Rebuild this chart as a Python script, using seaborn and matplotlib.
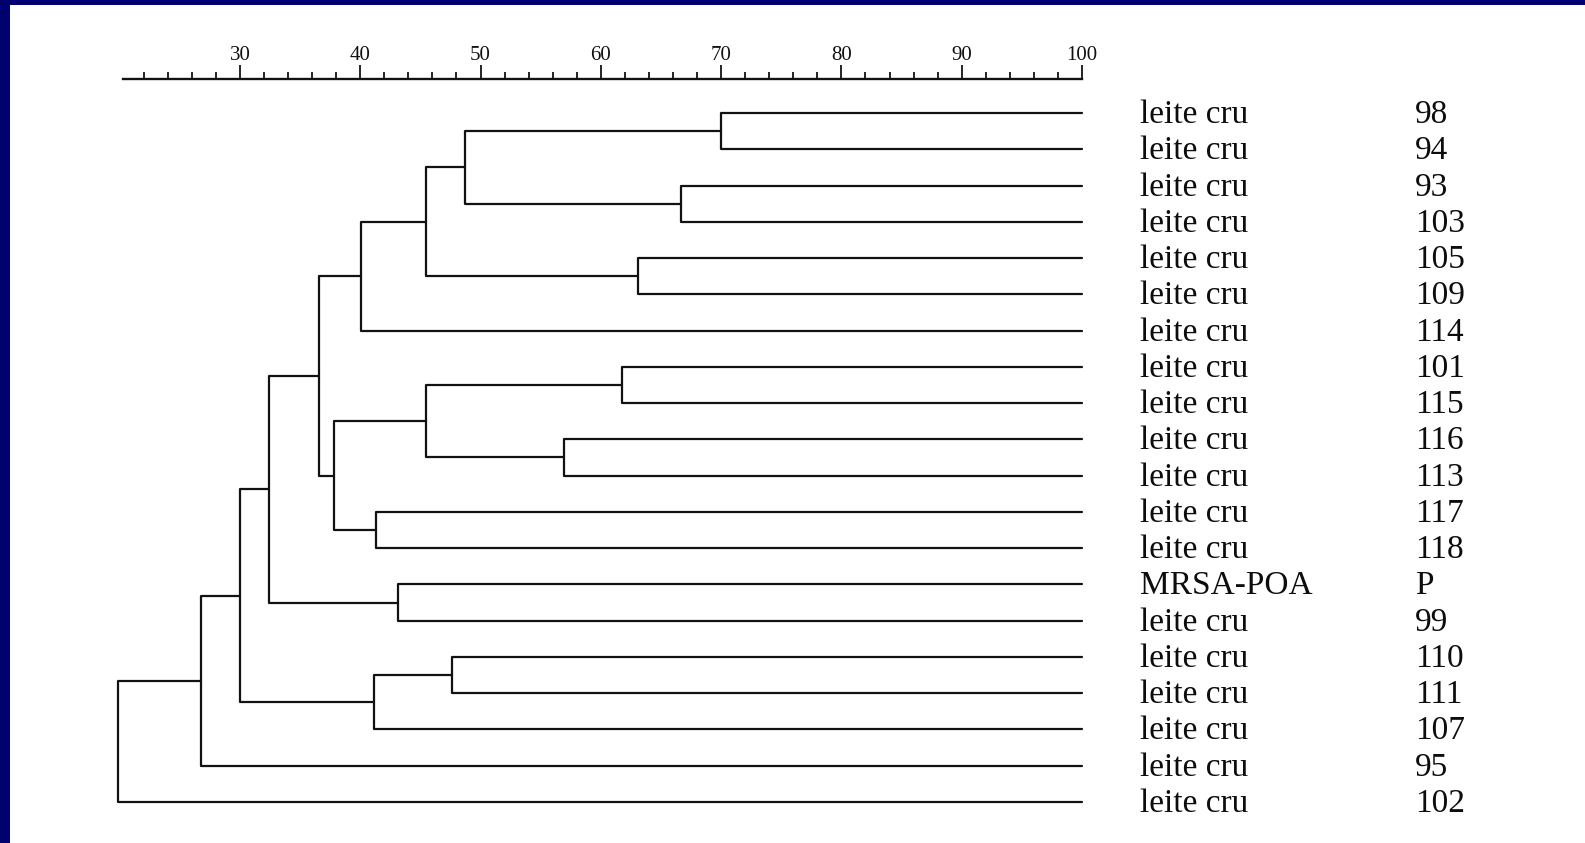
import matplotlib
matplotlib.use("Agg")
import matplotlib.pyplot as plt
import matplotlib.transforms as mtransforms
from matplotlib.ticker import FixedLocator
import numpy as np
import pandas as pd
import seaborn as sns

# ---------------- data ----------------
leaf_names = ["leite cru"] * 13 + ["MRSA-POA"] + ["leite cru"] * 6
leaf_codes = ["98", "94", "93", "103", "105", "109", "114", "101", "115", "116",
              "113", "117", "118", "P", "99", "110", "111", "107", "95", "102"]
# merges: (left cluster, right cluster, similarity %); new clusters numbered from 20
merge_left = [0, 2, 20, 4, 22, 24, 7, 9, 26, 11, 28, 25, 13, 31, 15, 34, 33, 36, 37]
merge_right = [1, 3, 21, 5, 23, 6, 8, 10, 27, 12, 29, 30, 14, 32, 16, 17, 35, 18, 19]
merge_sim = [70.0, 66.7, 48.7, 63.1, 45.5, 40.1, 61.8, 56.9, 45.5, 41.3, 37.8,
             36.6, 43.1, 32.4, 47.6, 41.1, 30.0, 26.8, 19.9]
major_ticks = [30, 40, 50, 60, 70, 80, 90, 100]

# ---------------- build dendrogram segments ----------------
n = len(leaf_codes)
pos = {i: float(i) for i in range(n)}
height = {i: 100.0 for i in range(n)}
rows = []
for k, (a, b, s) in enumerate(zip(merge_left, merge_right, merge_sim)):
    cid = n + k
    pts = [(height[a], pos[a]), (s, pos[a]), (s, pos[b]), (height[b], pos[b])]
    for j, (x, y) in enumerate(pts):
        rows.append({"seg": k, "order": j, "x": x, "y": y})
    pos[cid] = (pos[a] + pos[b]) / 2.0
    height[cid] = s
df = pd.DataFrame(rows)

# ---------------- figure ----------------
sns.set_style("white")
plt.rcParams["font.family"] = ["Liberation Serif", "DejaVu Serif"]

W, H = 1585, 843
fig = plt.figure(figsize=(W / 100, H / 100), dpi=100)
fig.patch.set_facecolor("#00006f")

# white page
bg = fig.add_axes([10 / W, 0, 1 - 10 / W, 1 - 5 / H])
bg.set_facecolor("white")
bg.set_xticks([])
bg.set_yticks([])
for sp in bg.spines.values():
    sp.set_visible(False)

x_left_px, x_right_px = 123.3, 1082.0
top_px, bot_px = 79.0, 830.0
ax = fig.add_axes([x_left_px / W, 1 - bot_px / H,
                   (x_right_px - x_left_px) / W, (bot_px - top_px) / H])
ax.set_facecolor("none")

sns.lineplot(data=df, x="x", y="y", units="seg", estimator=None, sort=False,
             color="#121212", linewidth=1.6, ax=ax, legend=False)
for line in ax.get_lines():
    line.set_clip_on(False)

leaf_pitch = (802 - 113) / 19.0
ax.set_xlim(20.3, 100)
ax.set_ylim((bot_px - 113) / leaf_pitch, (top_px - 113) / leaf_pitch)
ax.set_xlabel("")
ax.set_ylabel("")
ax.set_yticks([])

for side in ["left", "right", "bottom"]:
    ax.spines[side].set_visible(False)
ax.spines["top"].set_visible(True)
ax.spines["top"].set_linewidth(1.7)
ax.spines["top"].set_color("#121212")

ax.xaxis.tick_top()
ax.xaxis.set_major_locator(FixedLocator(major_ticks))
ax.xaxis.set_minor_locator(FixedLocator([v for v in range(22, 100, 2) if v % 10]))
ax.set_xticklabels([str(v) for v in major_ticks])
ax.tick_params(axis="x", which="major", direction="out", length=10, width=1.3,
               color="#121212", labelsize=15, pad=0, top=True, bottom=False,
               labelcolor="#111111")
ax.tick_params(axis="x", which="minor", direction="out", length=5, width=1.3,
               color="#121212", top=True, bottom=False)

# leaf labels
trans = mtransforms.blended_transform_factory(fig.transFigure, ax.transData)
offset = 10 / leaf_pitch
for i, (name, code) in enumerate(zip(leaf_names, leaf_codes)):
    ax.text(1140 / W, i + offset, name, transform=trans, ha="left", va="baseline",
            fontsize=24, color="#0d0d0d")
    ax.text(1415 / W, i + offset, code, transform=trans, ha="left", va="baseline",
            fontsize=24, color="#0d0d0d")

fig.savefig("out.png", dpi=100, facecolor=fig.get_facecolor())
